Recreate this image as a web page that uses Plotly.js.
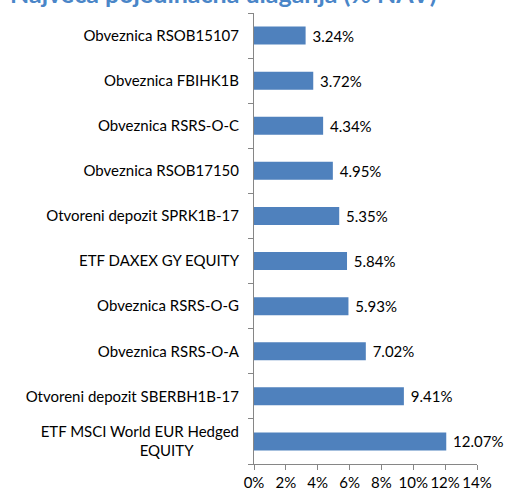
<!DOCTYPE html>
<html>
<head>
<meta charset="utf-8">
<script src="https://cdn.plot.ly/plotly-3.0.1.min.js"></script>
<style>html,body{margin:0;padding:0;background:#fff;}#chart{width:509px;height:495px;}</style>
</head>
<body>
<div id="chart"></div>
<script>
const categories = [
  "Obveznica RSOB15107",
  "Obveznica FBIHK1B",
  "Obveznica RSRS-O-C",
  "Obveznica RSOB17150",
  "Otvoreni depozit SPRK1B-17",
  "ETF DAXEX GY EQUITY",
  "Obveznica RSRS-O-G",
  "Obveznica RSRS-O-A",
  "Otvoreni depozit SBERBH1B-17",
  "ETF MSCI World EUR Hedged EQUITY"
];
const tickLabels = [
  "Obveznica RSOB15107",
  "Obveznica FBIHK1B",
  "Obveznica RSRS-O-C",
  "Obveznica RSOB17150",
  "Otvoreni depozit SPRK1B-17",
  "ETF DAXEX GY EQUITY",
  "Obveznica RSRS-O-G",
  "Obveznica RSRS-O-A",
  "Otvoreni depozit SBERBH1B-17",
  "ETF MSCI World EUR Hedged<br>EQUITY\u00a0\u00a0\u00a0\u00a0\u00a0\u00a0\u00a0\u00a0\u00a0\u00a0\u00a0\u00a0"
];
const values = [3.24, 3.72, 4.34, 4.95, 5.35, 5.84, 5.93, 7.02, 9.41, 12.07];
const xTickVals = [0, 2, 4, 6, 8, 10, 12, 14];
const xTickText = ["0%", "2%", "4%", "6%", "8%", "10%", "12%", "14%"];
const titleText = "Najveća pojedinačna ulaganja (% NAV)";

const FONT = "Lato, 'Open Sans', sans-serif";

const trace = {
  type: "bar",
  orientation: "h",
  y: categories,
  x: values,
  marker: {color: "#4F81BD"},
  text: values.map(v => "\u00a0" + v.toFixed(2) + "%"),
  textposition: "outside",
  cliponaxis: false,
  textfont: {family: FONT, size: 15, color: "#000"},
  hoverinfo: "none"
};

const layout = {
  width: 509, height: 495,
  margin: {l: 254, r: 32, t: 13, b: 31, pad: 0},
  paper_bgcolor: "#fff", plot_bgcolor: "#fff",
  showlegend: false,
  bargap: 0.6,
  font: {family: FONT, size: 15, color: "#000"},
  xaxis: {
    range: [0, 14], tickvals: xTickVals, ticktext: xTickText,
    showgrid: false, zeroline: false, showline: true, linecolor: "#868686", linewidth: 1,
    ticks: "outside", ticklen: 5, tickcolor: "#868686",
    tickfont: {family: FONT, size: 15, color: "#000"}
  },
  yaxis: {
    type: "category", categoryorder: "array", categoryarray: categories,
    range: [9.5, -0.5],
    tickvals: categories, ticktext: tickLabels,
    showgrid: false, zeroline: false, showline: true, linecolor: "#868686", linewidth: 1,
    ticks: "outside", ticklen: 5, tickcolor: "#868686", tickson: "boundaries",
    ticklabelstandoff: 11,
    tickfont: {family: FONT, size: 15, color: "#000"}
  },
  annotations: [{
    text: titleText, xref: "paper", yref: "paper",
    x: (8 - 254) / 223, xanchor: "left", y: 1, yanchor: "bottom", yshift: 3,
    showarrow: false,
    font: {family: FONT, size: 25, color: "#4A86C8", weight: "bold"}
  }]
};

Plotly.newPlot("chart", [trace], layout, {displayModeBar: false, staticPlot: true});
</script>
</body>
</html>
